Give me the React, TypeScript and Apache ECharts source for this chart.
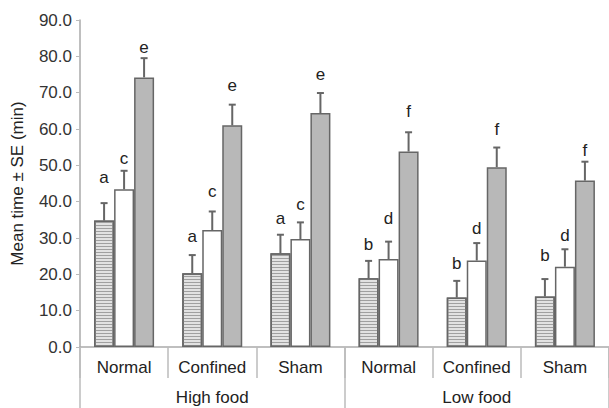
import React, { useEffect, useRef } from "react";
import * as echarts from "echarts";

const categories = ["Normal", "Confined", "Sham", "Normal", "Confined", "Sham"];
const foodGroups = ["High food", "Low food"];
const yTicks = { min: 0, max: 90, interval: 10 };

// Means
const stripedMean = [34.8, 20.3, 25.8, 18.9, 13.6, 13.9];
const whiteMean = [43.4, 32.2, 29.7, 24.2, 23.8, 22.1];
const greyMean = [74.2, 61.0, 64.4, 53.8, 49.5, 45.8];
// Mean + SE (top of error bars)
const stripedErr = [39.6, 25.3, 30.9, 23.7, 18.2, 18.7];
const whiteErr = [48.5, 37.3, 34.3, 29.0, 28.6, 26.9];
const greyErr = [79.5, 66.7, 69.9, 59.1, 54.9, 51.0];
// Significance letters and their heights
const stripedLetters = ["a", "a", "a", "b", "b", "b"];
const whiteLetters = ["c", "c", "c", "d", "d", "d"];
const greyLetters = ["e", "e", "e", "f", "f", "f"];
const stripedLetterY = [46.6, 30.4, 35.4, 28.1, 23.1, 25.1];
const whiteLetterY = [51.8, 42.8, 39.1, 35.4, 32.7, 30.6];
const greyLetterY = [82.4, 72.0, 74.9, 64.7, 59.8, 54.1];

const BAR_W = 20;
const FONT = "'Liberation Sans', Arial, Helvetica, sans-serif";

export default function App() {
  const ref = useRef<HTMLDivElement>(null);
  useEffect(() => {
    if (!ref.current) return;
    const chart = echarts.init(ref.current, undefined, { renderer: "svg" });

    const means = [stripedMean, whiteMean, greyMean];
    const errs = [stripedErr, whiteErr, greyErr];
    const letters = [stripedLetters, whiteLetters, greyLetters];
    const letterY = [stripedLetterY, whiteLetterY, greyLetterY];
    const errData: any[] = [];
    const errLetters: string[] = [];
    for (let k = 0; k < 3; k++) {
      for (let i = 0; i < categories.length; i++) {
        errData.push([i, k, means[k][i], errs[k][i], letterY[k][i]]);
        errLetters.push(letters[k][i]);
      }
    }

    const border = { borderColor: "#666", borderWidth: 1.5 };

    chart.setOption({
      animation: false,
      grid: { left: 80, top: 20, width: 534, height: 327 },
      xAxis: [
        {
          type: "category",
          data: categories,
          position: "bottom",
          axisLine: { show: true, lineStyle: { color: "#aaa", width: 1.5 } },
          axisTick: { show: true, interval: 0, length: 31, lineStyle: { color: "#bbb", width: 1.5 } },
          axisLabel: { show: true, interval: 0, fontSize: 17, color: "#222", margin: 12, fontFamily: FONT },
        },
        {
          type: "category",
          data: foodGroups,
          position: "bottom",
          axisLine: { show: false },
          axisTick: { show: true, interval: 0, length: 61, lineStyle: { color: "#bbb", width: 1.5 } },
          axisLabel: { show: true, interval: 0, fontSize: 17, color: "#222", margin: 42, fontFamily: FONT },
        },
      ],
      yAxis: {
        type: "value",
        min: yTicks.min,
        max: yTicks.max,
        interval: yTicks.interval,
        name: "Mean time ± SE (min)",
        nameLocation: "middle",
        nameGap: 54,
        nameTextStyle: { fontSize: 17, color: "#222", fontFamily: FONT },
        axisLine: { show: true, lineStyle: { color: "#aaa", width: 1.5 } },
        axisTick: { show: true, length: 4, lineStyle: { color: "#bbb" } },
        splitLine: { show: false },
        axisLabel: {
          fontSize: 17,
          color: "#333",
          margin: 8,
          fontFamily: FONT,
          formatter: (v: number) => v.toFixed(1),
        },
      },
      series: [
        {
          type: "bar",
          data: stripedMean,
          barWidth: BAR_W,
          barGap: "0%",
          itemStyle: {
            color: "#e2e2e2",
            ...border,
            decal: {
              symbol: "rect",
              symbolSize: 1,
              color: "#a0a0a0",
              dashArrayX: [1, 0],
              dashArrayY: [1, 2],
              rotation: 0,
            },
          },
        },
        {
          type: "bar",
          data: whiteMean,
          barWidth: BAR_W,
          barGap: "0%",
          itemStyle: { color: "#ffffff", ...border },
        },
        {
          type: "bar",
          data: greyMean,
          barWidth: BAR_W,
          barGap: "0%",
          itemStyle: { color: "#b8b8b8", ...border },
        },
        {
          type: "custom",
          data: errData,
          encode: { x: 0, y: 3 },
          z: 5,
          renderItem: (params: any, api: any) => {
            const cat = api.value(0);
            const k = api.value(1);
            const base = api.coord([cat, api.value(2)]);
            const top = api.coord([cat, api.value(3)]);
            const ly = api.coord([cat, api.value(4)]);
            const x = base[0] + (k - 1) * BAR_W;
            const st = { stroke: "#666", lineWidth: 2 };
            return {
              type: "group",
              children: [
                { type: "line", shape: { x1: x, y1: base[1], x2: x, y2: top[1] }, style: st },
                { type: "line", shape: { x1: x - 3.5, y1: top[1], x2: x + 3.5, y2: top[1] }, style: st },
                {
                  type: "text",
                  x: x,
                  y: ly[1],
                  style: {
                    text: errLetters[params.dataIndex],
                    fill: "#222",
                    fontSize: 17,
                    fontFamily: FONT,
                    align: "center",
                    verticalAlign: "middle",
                  },
                },
              ],
            };
          },
        },
      ],
    });
    return () => chart.dispose();
  }, []);
  return <div ref={ref} style={{ width: 609, height: 408, position: "absolute", left: 0, top: 0 }} />;
}
